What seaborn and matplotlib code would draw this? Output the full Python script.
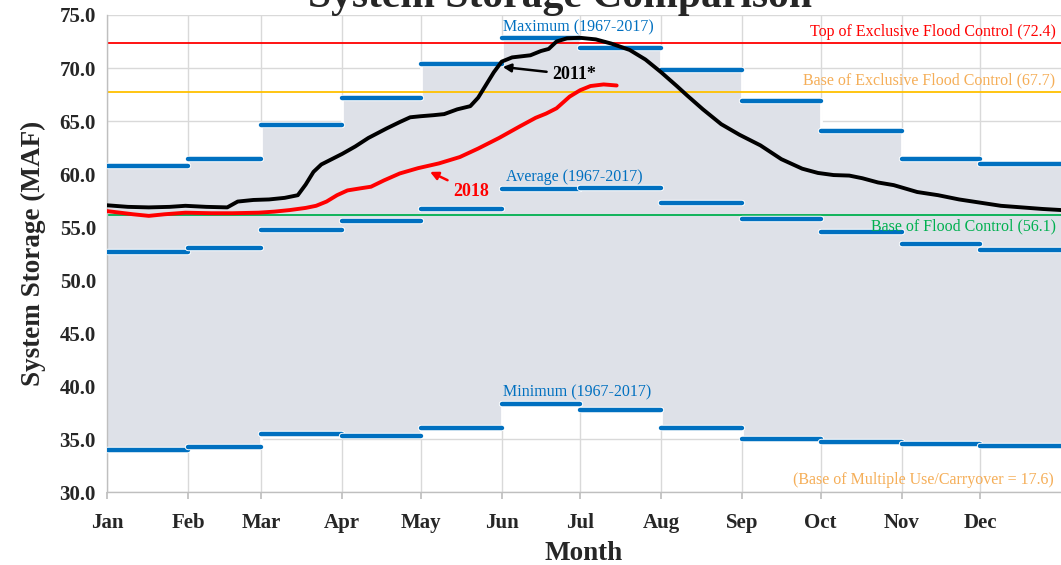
import numpy as np
import pandas as pd
import matplotlib
matplotlib.use("Agg")
import matplotlib.pyplot as plt
import matplotlib.patheffects as pe
import seaborn as sns

# Month layout (day of year at the start of each month)
months = ["Jan", "Feb", "Mar", "Apr", "May", "Jun", "Jul", "Aug", "Sep", "Oct", "Nov", "Dec"]
month_start = [0, 31, 59, 90, 120, 151, 181, 212, 243, 273, 304, 334]
month_len = [31, 28, 31, 30, 31, 30, 31, 31, 30, 31, 30, 31]

# Historical monthly storage, 1967-2017 (MAF)
storage_max = [60.8, 61.4, 64.6, 67.2, 70.4, 72.8, 71.9, 69.8, 66.9, 64.1, 61.4, 60.9]
storage_avg = [52.6, 53.0, 54.7, 55.6, 56.7, 58.6, 58.7, 57.3, 55.8, 54.5, 53.4, 52.8]
storage_min = [34.0, 34.2, 35.5, 35.3, 36.0, 38.3, 37.7, 36.0, 35.0, 34.7, 34.5, 34.3]

# Daily system storage for 2011 (day of year, MAF)
days_2011 = [0, 8, 16, 24, 30, 38, 46, 50, 56, 62, 68, 73, 76, 79, 82, 86, 90, 95, 100,
             107, 112, 116, 120, 125, 129, 134, 139, 142, 145, 148, 151, 155, 162, 166,
             169, 172, 176, 181, 187, 193, 200, 206, 212, 218, 222, 228, 235, 242, 250,
             258, 266, 272, 278, 284, 289, 295, 301, 310, 318, 326, 334, 342, 350, 358, 365]
storage_2011 = [57.05, 56.9, 56.85, 56.9, 57.0, 56.9, 56.85, 57.4, 57.55, 57.6, 57.75, 58.0,
                59.0, 60.2, 60.9, 61.4, 61.9, 62.6, 63.4, 64.3, 64.9, 65.35, 65.45, 65.55,
                65.65, 66.1, 66.4, 67.2, 68.4, 69.6, 70.6, 71.0, 71.2, 71.6, 71.8, 72.5,
                72.8, 72.85, 72.7, 72.3, 71.7, 70.8, 69.6, 68.3, 67.4, 66.1, 64.7, 63.7,
                62.7, 61.4, 60.5, 60.1, 59.9, 59.85, 59.6, 59.2, 58.95, 58.3, 58.0, 57.6,
                57.3, 57.0, 56.85, 56.7, 56.6]

# Daily system storage for 2018 (day of year, MAF)
days_2018 = [0, 5, 10, 16, 22, 30, 40, 48, 58, 64, 70, 76, 80, 84, 88, 92, 97, 101, 106,
             112, 119, 127, 135, 142, 150, 158, 164, 168, 172, 177, 181, 185, 190, 195]
storage_2018 = [56.5, 56.35, 56.2, 56.05, 56.2, 56.35, 56.3, 56.3, 56.35, 56.45, 56.6, 56.8,
                57.0, 57.4, 58.0, 58.45, 58.65, 58.8, 59.4, 60.05, 60.55, 61.0, 61.6, 62.4,
                63.4, 64.5, 65.3, 65.7, 66.2, 67.3, 67.9, 68.3, 68.45, 68.35]

# Operating zone boundaries (MAF)
top_excl_flood = 72.4
base_excl_flood = 67.7
base_flood = 56.1

sns.set_theme(style="white")
plt.rcParams["font.family"] = ["Liberation Serif", "DejaVu Serif"]

BLUE = "#0070C0"
FILL = "#DEE1E8"
GRID = "#D9D9D9"
ORANGE_TXT = "#F5AE58"

fig = plt.figure(figsize=(10.61, 5.65), dpi=100)
ax = fig.add_axes([107 / 1061, 73 / 565, 1 - 107 / 1061, (492 - 15) / 565])

# Gridlines behind everything
ax.set_axisbelow(True)
ax.grid(True, color=GRID, linewidth=1.0)

# Historical range band (min to max), stepped by month, with a white outline
step_x = month_start + [365]
step_max = storage_max + [storage_max[-1]]
step_min = storage_min + [storage_min[-1]]
ax.fill_between(step_x, step_min, step_max, step="post", color=FILL, linewidth=0, zorder=1)
ax.step(step_x, step_max, where="post", color="white", linewidth=2.0, zorder=1.5)
ax.step(step_x, step_min, where="post", color="white", linewidth=2.0, zorder=1.5)

# Zone boundary lines
ax.axhline(top_excl_flood, color="#FF0000", linewidth=1.3, zorder=2)
ax.axhline(base_excl_flood, color="#FFC000", linewidth=1.3, zorder=2)
ax.axhline(base_flood, color="#00B050", linewidth=1.3, zorder=2)

# Monthly max / average / min markers
ends = np.array(month_start) + np.array(month_len)
halo = [pe.withStroke(linewidth=4.6, foreground="white")]
for vals in (storage_max, storage_avg, storage_min):
    ax.hlines(vals, month_start, ends, color=BLUE, linewidth=3.2, capstyle="round",
              zorder=3, path_effects=halo)

# Daily storage traces
df11 = pd.DataFrame({"day": days_2011, "storage": storage_2011})
df18 = pd.DataFrame({"day": days_2018, "storage": storage_2018})
sns.lineplot(data=df11, x="day", y="storage", ax=ax, color="black", linewidth=2.8, zorder=4)
sns.lineplot(data=df18, x="day", y="storage", ax=ax, color="#FF0000", linewidth=2.8, zorder=4)

# Annotations
ax.annotate("2011*", xy=(151.4, 70.1), xytext=(170.5, 69.35), fontsize=13, fontweight="bold",
            color="black", va="center", ha="left", zorder=5,
            arrowprops=dict(arrowstyle="-|>", color="black", lw=1.8, mutation_scale=12,
                            shrinkA=2, shrinkB=0))
ax.annotate("2018", xy=(123.6, 60.2), xytext=(132.5, 58.35), fontsize=13, fontweight="bold",
            color="#FF0000", va="center", ha="left", zorder=5,
            arrowprops=dict(arrowstyle="-|>", color="#FF0000", lw=1.8, mutation_scale=12,
                            shrinkA=2, shrinkB=0))

lab_kw = dict(fontsize=11.5, color=BLUE, ha="left", va="center", zorder=5)
ax.text(151.5, 73.85, "Maximum (1967-2017)", **lab_kw)
ax.text(152.7, 59.75, "Average (1967-2017)", **lab_kw)
ax.text(151.5, 39.35, "Minimum (1967-2017)", **lab_kw)

rkw = dict(fontsize=11.5, ha="right", va="center", zorder=5)
ax.text(362.9, 73.37, "Top of Exclusive Flood Control (72.4)", color="#FF0000", **rkw)
ax.text(362.9, 68.8, "Base of Exclusive Flood Control (67.7)", color=ORANGE_TXT, **rkw)
ax.text(362.9, 55.1, "Base of Flood Control (56.1)", color="#00B050", **rkw)
ax.text(362.3, 31.1, "(Base of Multiple Use/Carryover = 17.6)", color=ORANGE_TXT, **rkw)

# Axes
ax.set_xlim(0, 365)
ax.set_ylim(30, 75)
ax.set_xticks(month_start)
ax.set_xticklabels(months, fontsize=15, fontweight="bold")
ax.set_yticks(np.arange(30, 75.1, 5))
ax.set_yticklabels([f"{v:.1f}" for v in np.arange(30, 75.1, 5)], fontsize=15, fontweight="bold")
ax.tick_params(axis="x", which="both", bottom=True, length=5, color="#BFBFBF", pad=10)
ax.tick_params(axis="y", length=0, pad=8)
ax.set_xlabel("Month", fontsize=19.5, fontweight="bold", labelpad=6)
ax.set_ylabel("System Storage (MAF)", fontsize=19.5, fontweight="bold", labelpad=10)

for side in ("top", "right"):
    ax.spines[side].set_visible(False)
for side in ("left", "bottom"):
    ax.spines[side].set_color("#BFBFBF")
    ax.spines[side].set_linewidth(1.0)

fig.text(560 / 1061, 1 - 7 / 565, "System Storage Comparison", fontsize=30, fontweight="bold",
         ha="center", va="baseline")

fig.savefig("out.png", dpi=100)
